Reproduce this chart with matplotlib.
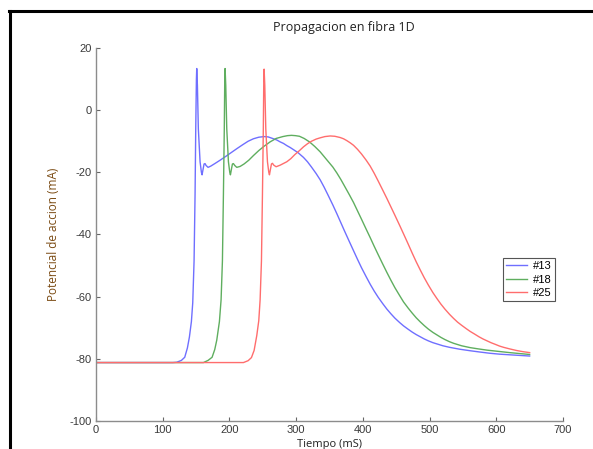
import matplotlib
matplotlib.use("Agg")
import matplotlib.pyplot as plt
from matplotlib.lines import Line2D

plt.rcParams["axes.unicode_minus"] = False

# ---- data ----
t13 = [0, 100, 115, 121, 128, 133, 137, 140, 143, 145, 147, 148.5, 149.5, 150.5, 151,
       152, 153.4, 156, 158, 159, 160.5, 162, 163.5, 165, 168, 172, 178, 186, 195, 203,
       211, 220, 228, 236, 244, 252, 258, 266, 271, 276, 281, 286, 291, 296, 303, 311, 317,
       323, 330, 336, 342, 348, 355, 361, 367, 373, 380, 386, 392, 398, 405, 411, 417, 423,
       430, 436, 442, 448, 455, 461, 468, 474, 480, 486, 492, 498, 505, 511, 520, 530, 545,
       561, 575, 590, 605, 620, 635, 650]
v13 = [-81.2, -81.2, -81.2, -81.1, -80.5, -79.5, -76.5, -73, -68, -62, -48.5, -27, -6, 10, 13.4,
       8, -6, -16.6, -20, -20.8, -19, -17.3, -17.2, -17.8, -18.4, -18, -17.2, -16.1, -14.8, -13.6,
       -12.4, -11.1, -10.0, -9.2, -8.7, -8.5, -8.6, -9.2, -9.6, -10.2, -10.7, -11.4, -12.0, -12.7, -13.7, -15.2, -16.6,
       -18.3, -20.4, -22.4, -24.8, -27.4, -30.5, -33.3, -36.2, -39.1, -42.4, -45.2, -48, -50.7, -53.6, -56, -58.2, -60.2,
       -62.3, -64, -65.5, -66.9, -68.3, -69.4, -70.5, -71.4, -72.2, -72.9, -73.6, -74.2, -74.8, -75.2, -75.8, -76.3, -76.9,
       -77.4, -77.8, -78.2, -78.5, -78.7, -78.9, -79.1]

t18 = [0, 150, 161, 168, 174, 178, 181, 185, 187.5, 189.5, 191, 192.3, 193, 193.5,
       194.5, 196, 198.5, 200.5, 201.5, 203, 204.5, 206, 208, 211, 216, 222, 229, 236, 244,
       252, 261, 270, 280, 287, 293, 299, 305, 312, 320, 328, 336, 348, 355, 361, 367,
       373, 380, 386, 392, 398, 405, 411, 417, 423, 430, 436, 442, 448, 455, 461, 468, 474,
       480, 486, 492, 498, 505, 511, 517, 523, 530, 536, 548, 561, 573, 586, 603, 620, 635, 650]
v18 = [-81.2, -81.2, -81.2, -80.5, -79.5, -77, -74, -68, -61, -48.5, -27, -6, 10, 13.4,
       8, -6, -16.6, -20, -20.8, -19, -17.3, -17.2, -17.8, -18.4, -18.1, -17.3, -16.1, -14.6, -13,
       -11.6, -10.2, -9.1, -8.5, -8.2, -8.1, -8.2, -8.4, -9.1, -10.2, -11.7, -13.4, -16.5, -18.3, -20.2, -22.3,
       -24.6, -27.3, -29.7, -32.4, -35.1, -38.3, -41, -43.8, -46.5, -49.6, -52.2, -54.7, -57.1, -59.6, -61.7, -63.7, -65.3,
       -66.8, -68.1, -69.3, -70.4, -71.5, -72.3, -73.1, -73.8, -74.5, -75, -75.8, -76.4, -76.8, -77.2, -77.6, -78, -78.3, -78.6]

t25 = [0, 210, 221, 228, 233, 237, 241, 244, 246, 248, 249.5, 250.8, 251.5, 252,
       253, 254.5, 257, 259, 260, 261.5, 263, 264.5, 266.5, 270, 276, 286, 292, 298, 305, 311,
       317, 323, 330, 336, 343, 351, 358, 366, 371, 376, 381, 386, 392, 398, 405, 411, 417,
       423, 430, 436, 442, 448, 455, 461, 468, 474, 480, 486, 492, 498, 505, 511, 517, 523,
       530, 536, 542, 548, 555, 561, 568, 574, 580, 586, 592, 598, 605, 611, 620, 630, 640, 650]
v25 = [-81.2, -81.2, -81.2, -80.6, -79.6, -77.3, -72.5, -67.7, -61, -48.5, -27, -6, 10, 13.2,
       8, -6, -16.6, -20, -20.8, -19, -17.3, -17.1, -17.7, -18.2, -17.7, -16.6, -15.6, -14.3, -13, -11.8,
       -10.8, -10, -9.3, -8.9, -8.5, -8.3, -8.4, -8.8, -9.2, -9.8, -10.5, -11.3, -12.6, -14.1, -16.1, -18, -20.3,
       -22.8, -25.8, -28.4, -31.1, -33.8, -37, -39.8, -43.1, -46, -48.8, -51.4, -53.9, -56.2, -58.7, -60.6, -62.4, -64,
       -65.7, -67, -68.2, -69.2, -70.3, -71.2, -72.1, -72.9, -73.6, -74.2, -74.8, -75.3, -75.9, -76.3, -76.8, -77.3, -77.7, -78]

labels = ["#13", "#18", "#25"]
colors = ["#6f6fff", "#5fae5f", "#ff6d6d"]

xticks = [0, 100, 200, 300, 400, 500, 600, 700]
yticks = [-100, -80, -60, -40, -20, 0, 20]

# ---- figure ----
fig = plt.figure(figsize=(5.93, 4.49), dpi=100)
ax = fig.add_axes([96/593, 1 - 421/449, (563-96)/593, (421-48)/449])

for t, v, lab, c in zip([t13, t18, t25], [v13, v18, v25], labels, colors):
    ax.plot(t, v, color=c, lw=1.0, label=lab)

ax.set_xlim(0, 700)
ax.set_ylim(-100, 20)
ax.set_xticks(xticks)
ax.set_yticks(yticks)
for s in ["top", "right"]:
    ax.spines[s].set_visible(False)
for s in ["left", "bottom"]:
    ax.spines[s].set_color("#8c8c8c")
    ax.spines[s].set_linewidth(1.0)
ax.tick_params(direction="in", length=3, width=0.8, color="#666666",
               labelsize=8, labelcolor="#3a3a3a", pad=3)
for lbl in ax.get_xticklabels() + ax.get_yticklabels():
    lbl.set_family("Liberation Sans")

ax.set_title("Propagacion en fibra 1D", fontsize=9, family="Open Sans",
             color="#222222", x=0.53, pad=12)
ax.set_ylabel("Potencial de accion (mA)", fontsize=8.5, family="Open Sans",
              color="#7a4a12", labelpad=7)
ax.set_xlabel("Tiempo (mS)", fontsize=8, family="Open Sans", color="#222222", labelpad=3)

leg = ax.legend(loc="upper left", bbox_to_anchor=(0.871, 0.437), borderaxespad=0,
                fontsize=8, handlelength=1.9, fancybox=False, framealpha=1,
                edgecolor="#555555", borderpad=0.3, labelspacing=0.3, handletextpad=0.5)
leg.get_frame().set_linewidth(0.8)
for txt in leg.get_texts():
    txt.set_family("Liberation Sans")

# black frame lines at top and left of the picture
fig.add_artist(Line2D([9/593, 1], [1 - 11/449, 1 - 11/449], color="black", lw=2.2,
                      transform=fig.transFigure))
fig.add_artist(Line2D([9.5/593, 9.5/593], [0, 1 - 11/449], color="black", lw=2.2,
                      transform=fig.transFigure))

fig.savefig("out.png", dpi=100)
